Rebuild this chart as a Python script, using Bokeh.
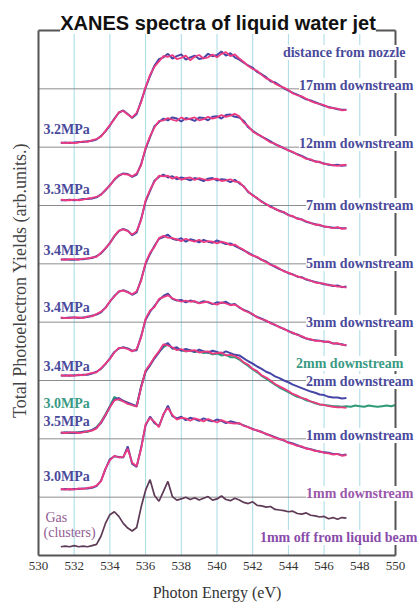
from math import pi
from bokeh.plotting import figure
from bokeh.models import Range1d, FixedTicker, Label, LinearAxis
from bokeh.embed import file_html
from bokeh.resources import INLINE

# ---------------- data ----------------
energy = [531.25, 531.5, 531.75, 532.0, 532.25, 532.5, 532.75, 533.0, 533.25, 533.5,
          533.75, 534.0, 534.25, 534.5, 534.75, 535.0, 535.25, 535.5, 535.75, 536.0,
          536.25, 536.5, 536.75, 537.0, 537.25, 537.5, 537.75, 538.0, 538.25, 538.5,
          538.75, 539.0, 539.25, 539.5, 539.75, 540.0, 540.25, 540.5, 540.75, 541.0,
          541.25, 541.5, 541.75, 542.0, 542.25, 542.5, 542.75, 543.0, 543.25, 543.5,
          543.75, 544.0, 544.25, 544.5, 544.75, 545.0, 545.25, 545.5, 545.75, 546.0,
          546.25, 546.5, 546.75, 547.0, 547.25]
energy_green_tail = [547.5, 547.75, 548.0, 548.25, 548.5, 548.75, 549.0, 549.25, 549.5, 549.75, 550.0]

# vertical offsets (stacking) of each spectrum, top to bottom
offsets = [7.07, 6.09, 5.07, 4.07, 3.08, 2.10, 1.13, 0.15]

# spectra (height above own offset), blue and magenta runs
blue_17mm = [0.00, 0.01, 0.00, 0.01, 0.02, 0.02, 0.03, 0.04, 0.06, 0.12,
             0.20, 0.30, 0.42, 0.52, 0.56, 0.50, 0.43, 0.50, 0.72, 0.95,
             1.15, 1.33, 1.44, 1.47, 1.53, 1.45, 1.49, 1.52, 1.43, 1.47,
             1.50, 1.44, 1.46, 1.53, 1.49, 1.51, 1.57, 1.50, 1.54, 1.47,
             1.43, 1.38, 1.33, 1.29, 1.22, 1.18, 1.13, 1.06, 1.04, 0.99,
             0.94, 0.90, 0.86, 0.83, 0.79, 0.75, 0.73, 0.70, 0.67, 0.64,
             0.62, 0.60, 0.58, 0.57, 0.57]
mag_17mm = [0.01, 0.00, 0.01, 0.00, 0.01, 0.03, 0.02, 0.05, 0.07, 0.11,
            0.21, 0.31, 0.41, 0.53, 0.55, 0.49, 0.44, 0.52, 0.70, 0.96,
            1.17, 1.31, 1.40, 1.49, 1.48, 1.51, 1.44, 1.46, 1.50, 1.42,
            1.48, 1.51, 1.45, 1.47, 1.52, 1.47, 1.53, 1.56, 1.49, 1.52,
            1.45, 1.39, 1.32, 1.27, 1.24, 1.17, 1.11, 1.08, 1.02, 0.98,
            0.95, 0.91, 0.85, 0.82, 0.80, 0.76, 0.72, 0.69, 0.67, 0.65,
            0.61, 0.60, 0.59, 0.56, 0.57]
blue_12mm = [0.00, 0.00, 0.01, 0.00, 0.01, 0.02, 0.02, 0.03, 0.05, 0.10,
             0.17, 0.26, 0.35, 0.42, 0.46, 0.45, 0.40, 0.44, 0.62, 0.88,
             1.08, 1.27, 1.34, 1.40, 1.37, 1.42, 1.40, 1.35, 1.41, 1.39,
             1.36, 1.42, 1.41, 1.37, 1.43, 1.44, 1.40, 1.46, 1.47, 1.43,
             1.42, 1.36, 1.25, 1.19, 1.14, 1.09, 1.05, 1.01, 0.96, 0.93,
             0.89, 0.86, 0.82, 0.79, 0.76, 0.72, 0.69, 0.67, 0.65, 0.63,
             0.61, 0.60, 0.61, 0.59, 0.60]
mag_12mm = [0.01, 0.00, 0.00, 0.01, 0.00, 0.01, 0.03, 0.04, 0.06, 0.09,
            0.18, 0.25, 0.36, 0.43, 0.45, 0.44, 0.41, 0.46, 0.60, 0.90,
            1.10, 1.25, 1.36, 1.37, 1.41, 1.38, 1.36, 1.42, 1.38, 1.40,
            1.42, 1.37, 1.39, 1.43, 1.40, 1.42, 1.46, 1.43, 1.45, 1.48,
            1.44, 1.33, 1.27, 1.18, 1.13, 1.10, 1.04, 0.99, 0.97, 0.92,
            0.90, 0.85, 0.83, 0.78, 0.75, 0.71, 0.70, 0.66, 0.66, 0.62,
            0.62, 0.60, 0.59, 0.60, 0.61]
blue_7mm = [0.00, 0.01, 0.00, 0.00, 0.01, 0.01, 0.02, 0.03, 0.06, 0.11,
            0.19, 0.29, 0.40, 0.49, 0.53, 0.50, 0.42, 0.47, 0.70, 1.00,
            1.18, 1.36, 1.42, 1.46, 1.41, 1.43, 1.38, 1.41, 1.39, 1.36,
            1.40, 1.38, 1.35, 1.39, 1.40, 1.36, 1.38, 1.37, 1.33, 1.37,
            1.31, 1.26, 1.16, 1.11, 1.05, 1.00, 0.95, 0.92, 0.87, 0.84,
            0.81, 0.77, 0.74, 0.71, 0.69, 0.65, 0.63, 0.61, 0.59, 0.57,
            0.56, 0.55, 0.55, 0.54, 0.54]
mag_7mm = [0.01, 0.00, 0.01, 0.01, 0.00, 0.02, 0.02, 0.04, 0.05, 0.12,
           0.20, 0.28, 0.41, 0.50, 0.52, 0.49, 0.43, 0.49, 0.68, 1.02,
           1.20, 1.34, 1.44, 1.43, 1.44, 1.39, 1.42, 1.37, 1.40, 1.41,
           1.37, 1.40, 1.38, 1.36, 1.38, 1.39, 1.35, 1.36, 1.38, 1.34,
           1.33, 1.25, 1.17, 1.10, 1.06, 0.99, 0.96, 0.90, 0.88, 0.83,
           0.82, 0.76, 0.75, 0.70, 0.69, 0.66, 0.63, 0.60, 0.60, 0.57,
           0.56, 0.54, 0.56, 0.53, 0.54]
blue_5mm = [0.00, 0.00, 0.01, 0.01, 0.00, 0.01, 0.02, 0.04, 0.06, 0.10,
            0.18, 0.28, 0.38, 0.45, 0.48, 0.45, 0.40, 0.44, 0.66, 0.93,
            1.10, 1.24, 1.36, 1.39, 1.43, 1.36, 1.34, 1.37, 1.31, 1.35,
            1.33, 1.30, 1.34, 1.31, 1.29, 1.33, 1.30, 1.27, 1.28, 1.24,
            1.20, 1.16, 1.12, 1.08, 1.04, 1.00, 0.97, 0.92, 0.88, 0.84,
            0.81, 0.77, 0.75, 0.71, 0.70, 0.66, 0.64, 0.62, 0.60, 0.58,
            0.57, 0.55, 0.56, 0.53, 0.54]
mag_5mm = [0.01, 0.00, 0.00, 0.01, 0.01, 0.00, 0.03, 0.03, 0.07, 0.11,
           0.17, 0.29, 0.37, 0.46, 0.47, 0.44, 0.41, 0.46, 0.64, 0.95,
           1.12, 1.22, 1.37, 1.41, 1.38, 1.37, 1.35, 1.32, 1.36, 1.33,
           1.31, 1.34, 1.30, 1.32, 1.31, 1.28, 1.31, 1.29, 1.25, 1.26,
           1.21, 1.17, 1.11, 1.07, 1.05, 1.00, 0.96, 0.91, 0.89, 0.85,
           0.80, 0.78, 0.74, 0.72, 0.69, 0.67, 0.64, 0.61, 0.60, 0.59,
           0.56, 0.56, 0.54, 0.54, 0.52]
blue_3mm = [0.00, 0.01, 0.00, 0.01, 0.01, 0.02, 0.02, 0.04, 0.07, 0.12,
            0.20, 0.30, 0.41, 0.47, 0.49, 0.47, 0.43, 0.44, 0.68, 0.96,
            1.10, 1.20, 1.30, 1.37, 1.41, 1.32, 1.29, 1.30, 1.26, 1.29,
            1.27, 1.25, 1.28, 1.26, 1.23, 1.26, 1.25, 1.27, 1.22, 1.23,
            1.17, 1.13, 1.10, 1.05, 1.01, 0.98, 0.94, 0.91, 0.87, 0.84,
            0.80, 0.77, 0.73, 0.71, 0.67, 0.64, 0.62, 0.61, 0.60, 0.59,
            0.58, 0.56, 0.55, 0.54, 0.52]
mag_3mm = [0.01, 0.00, 0.01, 0.00, 0.02, 0.01, 0.03, 0.05, 0.06, 0.13,
           0.21, 0.29, 0.40, 0.48, 0.48, 0.46, 0.42, 0.46, 0.66, 0.98,
           1.12, 1.18, 1.32, 1.35, 1.38, 1.33, 1.30, 1.27, 1.29, 1.27,
           1.28, 1.24, 1.26, 1.27, 1.24, 1.22, 1.26, 1.24, 1.21, 1.22,
           1.18, 1.12, 1.09, 1.06, 1.00, 0.97, 0.95, 0.90, 0.88, 0.83,
           0.81, 0.76, 0.74, 0.70, 0.68, 0.64, 0.63, 0.60, 0.60, 0.58,
           0.59, 0.55, 0.56, 0.53, 0.53]
blue_2mm = [0.00, 0.01, 0.01, 0.00, 0.01, 0.02, 0.03, 0.05, 0.09, 0.17,
            0.30, 0.45, 0.57, 0.60, 0.55, 0.52, 0.49, 0.46, 0.80, 1.05,
            1.16, 1.28, 1.38, 1.50, 1.54, 1.45, 1.47, 1.41, 1.44, 1.42,
            1.39, 1.43, 1.40, 1.38, 1.41, 1.39, 1.36, 1.40, 1.37, 1.34,
            1.33, 1.28, 1.23, 1.19, 1.14, 1.10, 1.05, 1.02, 0.97, 0.94,
            0.90, 0.87, 0.83, 0.80, 0.77, 0.74, 0.71, 0.69, 0.66, 0.65,
            0.62, 0.61, 0.61, 0.59, 0.60]
mag_2mm = [0.01, 0.00, 0.01, 0.01, 0.00, 0.01, 0.03, 0.04, 0.08, 0.18,
           0.31, 0.44, 0.56, 0.58, 0.54, 0.50, 0.48, 0.45, 0.78, 1.07,
           1.18, 1.30, 1.40, 1.52, 1.50, 1.47, 1.42, 1.44, 1.40, 1.41,
           1.42, 1.38, 1.39, 1.40, 1.36, 1.37, 1.38, 1.33, 1.34, 1.32,
           1.28, 1.21, 1.17, 1.10, 1.06, 0.99, 0.95, 0.90, 0.84, 0.80,
           0.76, 0.72, 0.67, 0.64, 0.60, 0.58, 0.54, 0.52, 0.49, 0.48,
           0.46, 0.45, 0.44, 0.44, 0.43]
green_2mm = [0.00, 0.01, 0.00, 0.01, 0.01, 0.02, 0.02, 0.05, 0.10, 0.19,
             0.32, 0.46, 0.62, 0.57, 0.55, 0.51, 0.48, 0.46, 0.79, 1.06,
             1.17, 1.29, 1.39, 1.47, 1.52, 1.45, 1.44, 1.42, 1.40, 1.41,
             1.39, 1.40, 1.37, 1.38, 1.35, 1.36, 1.33, 1.34, 1.30, 1.30,
             1.26, 1.20, 1.15, 1.09, 1.04, 0.98, 0.93, 0.88, 0.83, 0.78,
             0.74, 0.70, 0.66, 0.62, 0.60, 0.56, 0.54, 0.51, 0.49, 0.48,
             0.47, 0.46, 0.46, 0.45, 0.46, 0.45, 0.47, 0.46, 0.45, 0.47,
             0.46, 0.45, 0.46, 0.47, 0.46, 0.48]
blue_1mm = [0.00, 0.01, 0.00, 0.01, 0.01, 0.02, 0.02, 0.03, 0.06, 0.15,
            0.35, 0.52, 0.57, 0.56, 0.55, 0.74, 0.44, 0.39, 0.72, 1.10,
            1.25, 1.14, 1.09, 1.28, 1.44, 1.26, 1.22, 1.25, 1.19, 1.23,
            1.21, 1.18, 1.22, 1.19, 1.17, 1.20, 1.18, 1.14, 1.17, 1.15,
            1.13, 1.10, 1.07, 1.04, 1.01, 0.99, 0.95, 0.93, 0.90, 0.87,
            0.84, 0.81, 0.79, 0.76, 0.73, 0.71, 0.69, 0.67, 0.65, 0.64,
            0.63, 0.61, 0.61, 0.59, 0.60]
mag_1mm = [0.01, 0.00, 0.01, 0.00, 0.02, 0.01, 0.03, 0.04, 0.07, 0.14,
           0.36, 0.50, 0.58, 0.55, 0.56, 0.70, 0.46, 0.40, 0.70, 1.12,
           1.23, 1.16, 1.07, 1.30, 1.40, 1.28, 1.20, 1.23, 1.22, 1.18,
           1.22, 1.20, 1.17, 1.21, 1.18, 1.15, 1.19, 1.16, 1.14, 1.13,
           1.14, 1.09, 1.07, 1.03, 1.02, 0.98, 0.96, 0.92, 0.89, 0.86,
           0.85, 0.80, 0.78, 0.75, 0.74, 0.70, 0.69, 0.66, 0.66, 0.63,
           0.62, 0.60, 0.61, 0.58, 0.59]
gas_clusters = [0.00, 0.01, 0.00, 0.02, 0.00, 0.01, 0.00, 0.02, 0.04, 0.18,
                0.40, 0.55, 0.60, 0.52, 0.40, 0.32, 0.27, 0.33, 0.68, 0.97,
                1.15, 0.88, 0.78, 0.95, 1.12, 0.86, 0.80, 0.82, 0.85, 0.81,
                0.84, 0.80, 0.83, 0.86, 0.80, 0.82, 0.87, 0.81, 0.79, 0.83,
                0.80, 0.76, 0.74, 0.77, 0.71, 0.70, 0.68, 0.69, 0.64, 0.63,
                0.62, 0.60, 0.61, 0.57, 0.56, 0.58, 0.54, 0.53, 0.51, 0.52,
                0.48, 0.50, 0.47, 0.50, 0.49]

x_ticks = [530, 532, 534, 536, 538, 540, 542, 544, 546, 548, 550]
y_grid = [1, 2, 3, 4, 5, 6, 7, 8]

right_labels = ["distance from nozzle", "17mm downstream", "12mm downstream", "7mm downstream",
                "5mm downstream", "3mm downstream", "2mm downstream", "2mm downstream",
                "1mm downstream", "1mm downstream", "1mm off from liquid beam"]
left_labels = ["3.2MPa", "3.3MPa", "3.4MPa", "3.4MPa", "3.4MPa", "3.0MPa", "3.5MPa",
               "3.0MPa", "Gas", "(clusters)"]

# ---------------- geometry / styling ----------------
W, H = 419, 602
FL, FR, FT, FB = 38, 395, 30, 555          # plot box in pixels
X0, X1, Y0, Y1 = 530, 550, 0, 9            # plot box in data units
PXX = (FR - FL) / (X1 - X0)
PXY = (FB - FT) / (Y1 - Y0)

BLUE = "#4646a6"
MAG = "#ee3a80"
GREEN = "#2f9a78"
GAS = "#5e3a56"
TXT_BLUE = "#4a4a9c"
TXT_GREEN = "#3a9a84"
TXT_PURPLE = "#9a58aa"
AXC = "#555555"
SERIF = "Liberation Serif"


def dx(px):
    return X0 + (px - FL) / PXX


def dy(py):
    return Y1 - (py - FT) / PXY


p = figure(width=W, height=H, output_backend="svg", toolbar_location=None,
           x_range=Range1d(dx(0), dx(W)), y_range=Range1d(dy(H), dy(0)),
           min_border=0)
p.outline_line_color = None
p.background_fill_color = "white"
p.border_fill_color = "white"
p.grid.visible = False

xa = p.xaxis[0]
xa.fixed_location = Y0
xa.bounds = (X0, X1)
xa.ticker = FixedTicker(ticks=x_ticks)
xa.major_label_text_font = SERIF
xa.major_label_text_font_size = "13px"
xa.major_label_text_color = "#333333"
xa.major_label_standoff = 6
xa.major_tick_in = 0
xa.major_tick_out = 0
xa.minor_tick_line_color = None
xa.axis_line_color = AXC
xa.axis_line_width = 2
xa.axis_label = "Photon Energy (eV)"
xa.axis_label_text_font = SERIF
xa.axis_label_text_font_size = "16px"
xa.axis_label_text_font_style = "normal"
xa.axis_label_text_color = "#333333"
xa.axis_label_standoff = 11

ya = p.yaxis[0]
ya.fixed_location = X0
ya.bounds = (Y0, Y1)
ya.ticker = FixedTicker(ticks=[])
ya.major_label_text_font_size = "0px"
ya.major_tick_line_color = None
ya.minor_tick_line_color = None
ya.axis_line_color = AXC
ya.axis_line_width = 2

ax_r = LinearAxis(fixed_location=X1, bounds=(Y0, Y1), ticker=FixedTicker(ticks=[]),
                  major_label_text_font_size="0px", major_tick_line_color=None,
                  minor_tick_line_color=None, axis_line_color=AXC, axis_line_width=2)
p.add_layout(ax_r, "right")
ax_t = LinearAxis(fixed_location=Y1, bounds=(X0, X1), ticker=FixedTicker(ticks=[]),
                  major_label_text_font_size="0px", major_tick_line_color=None,
                  minor_tick_line_color=None, axis_line_color=AXC, axis_line_width=2)
p.add_layout(ax_t, "above")

# grid lines (vertical every 2 eV, horizontal at each stacking level)
inner_ticks = x_ticks[1:-1]
p.segment(x0=inner_ticks, y0=[Y0] * len(inner_ticks), x1=inner_ticks, y1=[Y1] * len(inner_ticks),
          line_color="#a6dbe6", line_width=1)
p.segment(x0=[X0] * len(y_grid), y0=y_grid, x1=[X1] * len(y_grid), y1=y_grid,
          line_color="#8c8c8c", line_width=1)

# ---------------- spectra ----------------
pairs = [(blue_17mm, mag_17mm), (blue_12mm, mag_12mm), (blue_7mm, mag_7mm),
         (blue_5mm, mag_5mm), (blue_3mm, mag_3mm), (blue_2mm, mag_2mm),
         (blue_1mm, mag_1mm)]
for k, (b, m) in enumerate(pairs):
    off = offsets[k]
    if k == 5:
        p.line(energy + energy_green_tail, [off + v for v in green_2mm],
               line_color=GREEN, line_width=2.0)
    p.line(energy, [off + v for v in b], line_color=BLUE, line_width=2.0)
    p.line(energy, [off + v for v in m], line_color=MAG, line_width=1.8)
p.line(energy, [offsets[7] + v for v in gas_clusters], line_color=GAS, line_width=1.7)

# ---------------- texts ----------------
title = Label(x=dx(217.5), y=dy(22.5), text="XANES spectra of liquid water jet",
              text_font="Liberation Sans", text_font_style="bold", text_font_size="20px",
              text_color="#111111", text_align="center", text_baseline="middle",
              background_fill_color="white")
p.add_layout(title)

ylab = Label(x=dx(19), y=dy(280), text="Total Photoelectron Yields (arb.units.)",
             angle=pi / 2, text_font=SERIF, text_font_size="18px", text_color="#444444",
             text_align="center", text_baseline="middle")
p.add_layout(ylab)

right_pos = [(405, 52), (413, 85), (413, 143), (413, 205), (413, 263), (413, 322),
             (403, 363), (413, 381), (413, 435), (413, 493), (417, 537)]
right_col = [TXT_BLUE] * 6 + [TXT_GREEN, TXT_BLUE, TXT_BLUE, TXT_PURPLE, "#8a4caa"]
for txt, (px, py), c in zip(right_labels, right_pos, right_col):
    p.add_layout(Label(x=dx(px), y=dy(py), text=txt, text_font=SERIF,
                       text_font_style="bold", text_font_size="14px", text_color=c,
                       text_align="right", text_baseline="middle",
                       background_fill_color="white"))

left_pos = [(43, 129), (43, 189), (43, 250), (43, 307), (43, 366), (43, 403), (43, 421),
            (43, 476), (45, 517), (43, 532)]
left_col = [TXT_BLUE] * 5 + [TXT_GREEN, TXT_BLUE, TXT_BLUE, "#935c93", "#935c93"]
left_style = ["bold"] * 8 + ["normal", "normal"]
for txt, (px, py), c, st in zip(left_labels, left_pos, left_col, left_style):
    p.add_layout(Label(x=dx(px), y=dy(py), text=txt, text_font=SERIF,
                       text_font_style=st, text_font_size="14px", text_color=c,
                       text_align="left", text_baseline="middle"))

open("out.html", "w").write(file_html(p, INLINE))
